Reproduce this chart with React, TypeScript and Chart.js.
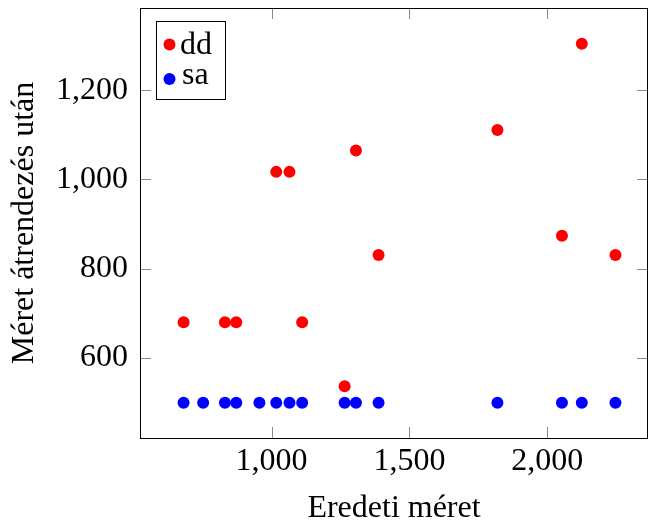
import React, { useEffect, useRef } from "react";
import { Chart, registerables } from "chart.js";

Chart.register(...registerables);

const ddX = [681, 831, 872, 1017, 1065, 1111, 1265, 1306, 1388, 1819, 2053, 2125, 2247];
const ddY = [680, 680, 680, 1017, 1017, 680, 537, 1065, 831, 1111, 874, 1304, 831];
const saX = [681, 752, 831, 872, 956, 1017, 1065, 1111, 1265, 1306, 1388, 1819, 2053, 2125, 2247];
const saY = [500, 500, 500, 500, 500, 500, 500, 500, 500, 500, 500, 500, 500, 500, 500];
const seriesNames = ["dd", "sa"];
const xTickValues = [1000, 1500, 2000];
const yTickValues = [600, 800, 1000, 1200];
const xTitle = "Eredeti méret";
const yTitle = "Méret átrendezés után";

const FONT = "'Liberation Serif', 'Times New Roman', serif";
const FS = 32;

const framePlugin = {
  id: "frameTicks",
  afterDatasetsDraw(chart: any) {
    const { ctx, chartArea } = chart;
    const { left, right, top, bottom } = chartArea;
    const xs = chart.scales.x;
    const ys = chart.scales.y;
    const tl = 11;
    ctx.save();
    ctx.strokeStyle = "#888888";
    ctx.lineWidth = 1;
    ctx.beginPath();
    xs.ticks.forEach((t: any) => {
      const px = Math.round(xs.getPixelForValue(t.value)) + 0.5;
      ctx.moveTo(px, bottom);
      ctx.lineTo(px, bottom - tl);
      ctx.moveTo(px, top);
      ctx.lineTo(px, top + tl);
    });
    ys.ticks.forEach((t: any) => {
      const py = Math.round(ys.getPixelForValue(t.value)) + 0.5;
      ctx.moveTo(left, py);
      ctx.lineTo(left + tl, py);
      ctx.moveTo(right, py);
      ctx.lineTo(right - tl, py);
    });
    ctx.stroke();
    ctx.strokeStyle = "#000000";
    ctx.strokeRect(Math.round(left) + 0.5, Math.round(top) + 0.5, Math.round(right - left) - 1, Math.round(bottom - top));

    // legend (pgfplots-style box inside the plot, north-west)
    const bx = 156.5, by = 21.5, bw = 69, bh = 78;
    ctx.fillStyle = "#ffffff";
    ctx.fillRect(bx, by, bw, bh);
    ctx.strokeRect(bx, by, bw, bh);
    const markerY = [44.5, 79];
    const textBase = [54, 84];
    const textX = [180, 182];
    chart.data.datasets.forEach((ds: any, i: number) => {
      ctx.fillStyle = ds.backgroundColor;
      ctx.beginPath();
      ctx.arc(169.5, markerY[i], 6, 0, Math.PI * 2);
      ctx.fill();
      ctx.fillStyle = "#000000";
      ctx.font = `${FS}px ${FONT}`;
      ctx.textAlign = "left";
      ctx.textBaseline = "alphabetic";
      ctx.fillText(ds.label, textX[i], textBase[i]);
    });
    ctx.restore();
  },
};

const zeroPad = (s: any) => {
  s.paddingTop = 0;
  s.paddingBottom = 0;
  s.paddingLeft = 0;
  s.paddingRight = 0;
};

export default function App() {
  const ref = useRef<HTMLCanvasElement | null>(null);
  useEffect(() => {
    if (!ref.current) return;
    const chart = new Chart(ref.current, {
      type: "scatter",
      data: {
        datasets: [
          {
            label: seriesNames[0],
            data: ddX.map((x, i) => ({ x, y: ddY[i] })),
            backgroundColor: "#ff0000",
            borderColor: "#ff0000",
            pointRadius: 6,
            borderWidth: 0,
          },
          {
            label: seriesNames[1],
            data: saX.map((x, i) => ({ x, y: saY[i] })),
            backgroundColor: "#0000ff",
            borderColor: "#0000ff",
            pointRadius: 6,
            borderWidth: 0,
          },
        ],
      },
      options: {
        animation: false,
        responsive: false,
        devicePixelRatio: 1,
        layout: { autoPadding: false, padding: { top: 8, right: 1, left: 0, bottom: 0 } },
        plugins: { legend: { display: false }, tooltip: { enabled: false } },
        scales: {
          x: {
            type: "linear",
            min: 523,
            max: 2365,
            grid: { display: false, drawTicks: false },
            border: { display: false },
            ticks: {
              color: "#000",
              font: { family: FONT, size: FS },
              padding: 4,
              maxRotation: 0,
              autoSkip: false,
            },
            afterBuildTicks: (s: any) => {
              s.ticks = xTickValues.map((v) => ({ value: v }));
            },
            title: {
              display: true,
              text: xTitle,
              color: "#000",
              font: { family: FONT, size: FS },
              padding: { top: 0, bottom: -3 },
            },
            afterFit: (s: any) => {
              s.height = 87;
              zeroPad(s);
            },
          },
          y: {
            type: "linear",
            min: 421,
            max: 1384,
            grid: { display: false, drawTicks: false },
            border: { display: false },
            ticks: {
              color: "#000",
              font: { family: FONT, size: FS },
              padding: 12,
              autoSkip: false,
            },
            afterBuildTicks: (s: any) => {
              s.ticks = yTickValues.map((v) => ({ value: v }));
            },
            title: {
              display: true,
              text: yTitle,
              color: "#000",
              font: { family: FONT, size: FS },
              padding: { top: 5, bottom: 0 },
            },
            afterFit: (s: any) => {
              s.width = 140;
              zeroPad(s);
            },
          },
        },
      },
      plugins: [framePlugin],
    });
    return () => chart.destroy();
  }, []);
  return (
    <div style={{ position: "absolute", left: 0, top: 0, width: 649, height: 525, background: "#fff" }}>
      <canvas ref={ref} width={649} height={525} style={{ width: 649, height: 525 }} />
    </div>
  );
}
